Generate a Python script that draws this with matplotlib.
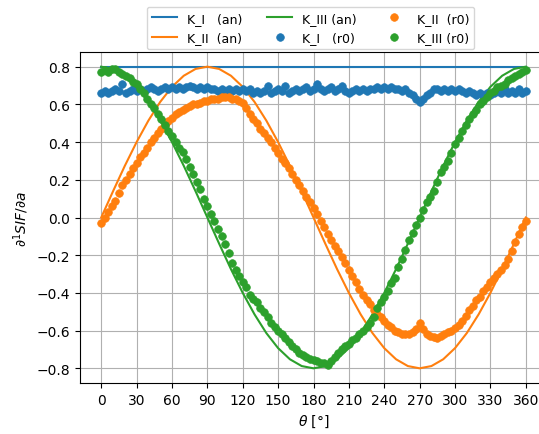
import matplotlib
matplotlib.use("Agg")
import matplotlib.pyplot as plt

# ---------------- data ----------------
# analytical solutions, sampled every 10 degrees
theta_an = list(range(0, 361, 10))
KI_an = [0.8] * 37
KII_an = [0.0, 0.139, 0.274, 0.4, 0.514, 0.613, 0.693, 0.752, 0.788, 0.8,
          0.788, 0.752, 0.693, 0.613, 0.514, 0.4, 0.274, 0.139, 0.0,
          -0.139, -0.274, -0.4, -0.514, -0.613, -0.693, -0.752, -0.788, -0.8,
          -0.788, -0.752, -0.693, -0.613, -0.514, -0.4, -0.274, -0.139, 0.0]
KIII_an = [0.8, 0.788, 0.752, 0.693, 0.613, 0.514, 0.4, 0.274, 0.139, 0.0,
           -0.139, -0.274, -0.4, -0.514, -0.613, -0.693, -0.752, -0.788, -0.8,
           -0.788, -0.752, -0.693, -0.613, -0.514, -0.4, -0.274, -0.139, 0.0,
           0.139, 0.274, 0.4, 0.514, 0.613, 0.693, 0.752, 0.788, 0.8]

# numerical results (r0), every 3 degrees
theta_r0 = list(range(0, 361, 3))
KI_r0 = [0.66, 0.67, 0.66, 0.67, 0.68, 0.67, 0.71, 0.66, 0.67, 0.68,
         0.67, 0.68, 0.67, 0.68, 0.69, 0.68, 0.67, 0.68, 0.69, 0.68,
         0.69, 0.68, 0.69, 0.68, 0.69, 0.70, 0.69, 0.68, 0.69, 0.68,
         0.69, 0.68, 0.68, 0.67, 0.68, 0.67, 0.68, 0.67, 0.68, 0.67,
         0.68, 0.67, 0.68, 0.66, 0.67, 0.66, 0.67, 0.70, 0.66, 0.67,
         0.68, 0.67, 0.70, 0.66, 0.67, 0.68, 0.67, 0.68, 0.69, 0.67,
         0.68, 0.71, 0.68, 0.67, 0.68, 0.69, 0.67, 0.68, 0.70, 0.67,
         0.66, 0.67, 0.68, 0.67, 0.68, 0.67, 0.68, 0.68, 0.69, 0.68,
         0.69, 0.68, 0.69, 0.68, 0.68, 0.67, 0.68, 0.66, 0.65, 0.63,
         0.615, 0.63, 0.65, 0.66, 0.68, 0.68, 0.67, 0.68, 0.67, 0.68,
         0.67, 0.68, 0.67, 0.66, 0.67, 0.66, 0.65, 0.66, 0.65, 0.66,
         0.65, 0.66, 0.67, 0.66, 0.68, 0.66, 0.67, 0.66, 0.68, 0.66,
         0.67]
KII_r0 = [-0.03, 0.00, 0.03, 0.06, 0.09, 0.13, 0.17, 0.20, 0.23, 0.26,
          0.29, 0.32, 0.34, 0.37, 0.40, 0.42, 0.45, 0.47, 0.49, 0.51,
          0.53, 0.55, 0.56, 0.57, 0.58, 0.59, 0.60, 0.60, 0.61, 0.62,
          0.62, 0.63, 0.63, 0.63, 0.64, 0.64, 0.64, 0.63, 0.63, 0.62,
          0.61, 0.58, 0.55, 0.52, 0.50, 0.47, 0.45, 0.42, 0.40, 0.37,
          0.34, 0.31, 0.29, 0.26, 0.23, 0.20, 0.17, 0.14, 0.11, 0.08,
          0.05, 0.02, -0.02, -0.05, -0.09, -0.12, -0.15, -0.18, -0.21, -0.24,
          -0.28, -0.31, -0.34, -0.38, -0.41, -0.44, -0.46, -0.49, -0.51, -0.53,
          -0.55, -0.57, -0.58, -0.60, -0.61, -0.62, -0.62, -0.62, -0.61, -0.59,
          -0.56, -0.59, -0.62, -0.63, -0.635, -0.64, -0.63, -0.62, -0.61, -0.60,
          -0.585, -0.57, -0.55, -0.52, -0.49, -0.47, -0.44, -0.42, -0.39, -0.37,
          -0.34, -0.32, -0.30, -0.28, -0.25, -0.22, -0.18, -0.13, -0.09, -0.05,
          -0.02]
KIII_r0 = [0.77, 0.78, 0.77, 0.79, 0.79, 0.77, 0.76, 0.75, 0.74, 0.72,
           0.71, 0.68, 0.66, 0.63, 0.60, 0.58, 0.55, 0.52, 0.49, 0.46,
           0.43, 0.40, 0.37, 0.35, 0.31, 0.27, 0.23, 0.19, 0.15, 0.10,
           0.06, 0.02, -0.02, -0.06, -0.10, -0.14, -0.19, -0.24, -0.28, -0.31,
           -0.34, -0.37, -0.41, -0.43, -0.45, -0.48, -0.50, -0.53, -0.56, -0.58,
           -0.60, -0.62, -0.64, -0.66, -0.68, -0.70, -0.72, -0.73, -0.74, -0.75,
           -0.755, -0.76, -0.77, -0.77, -0.78, -0.76, -0.74, -0.72, -0.70, -0.68,
           -0.67, -0.65, -0.64, -0.62, -0.60, -0.58, -0.56, -0.53, -0.48, -0.45,
           -0.42, -0.39, -0.35, -0.32, -0.26, -0.22, -0.17, -0.12, -0.08, -0.04,
           0.00, 0.04, 0.08, 0.11, 0.14, 0.19, 0.24, 0.27, 0.30, 0.34,
           0.39, 0.42, 0.46, 0.49, 0.52, 0.55, 0.57, 0.60, 0.62, 0.64,
           0.66, 0.67, 0.69, 0.70, 0.71, 0.73, 0.74, 0.75, 0.76, 0.77,
           0.78]

labels_an = ["K_I   (an)", "K_II  (an)", "K_III (an)"]
labels_r0 = ["K_I   (r0)", "K_II  (r0)", "K_III (r0)"]
xticks = list(range(0, 361, 30))
yticks = [-0.8, -0.6, -0.4, -0.2, 0.0, 0.2, 0.4, 0.6, 0.8]

# ---------------- plot ----------------
DPI = 100
fig = plt.figure(figsize=(539 / DPI, 435 / DPI), dpi=DPI)
ax = fig.add_axes([80 / 539, 50.6 / 435, 467 / 539, 331.8 / 435])

colors = ["C0", "C1", "C2"]
for vals, lab, c in zip([KI_an, KII_an, KIII_an], labels_an, colors):
    ax.plot(theta_an, vals, "-", color=c, lw=1.5, label=lab)
for vals, lab, c in zip([KI_r0, KII_r0, KIII_r0], labels_r0, colors):
    ax.plot(theta_r0, vals, "o", color=c, markersize=5.5, mew=0.5, label=lab)

ax.set_xlim(-18, 378)
ax.set_ylim(-0.88, 0.88)
ax.set_xticks(xticks)
ax.set_yticks(yticks)
ax.grid(True)
ax.set_xlabel(r"$\theta$ [°]")
ax.set_ylabel(r"$\partial^1 SIF/\partial a$")
ax.legend(ncol=3, loc="lower center", bbox_to_anchor=(0.494, 1.0),
          borderaxespad=0.2, fontsize=9)

fig.savefig("out.png", dpi=DPI)
